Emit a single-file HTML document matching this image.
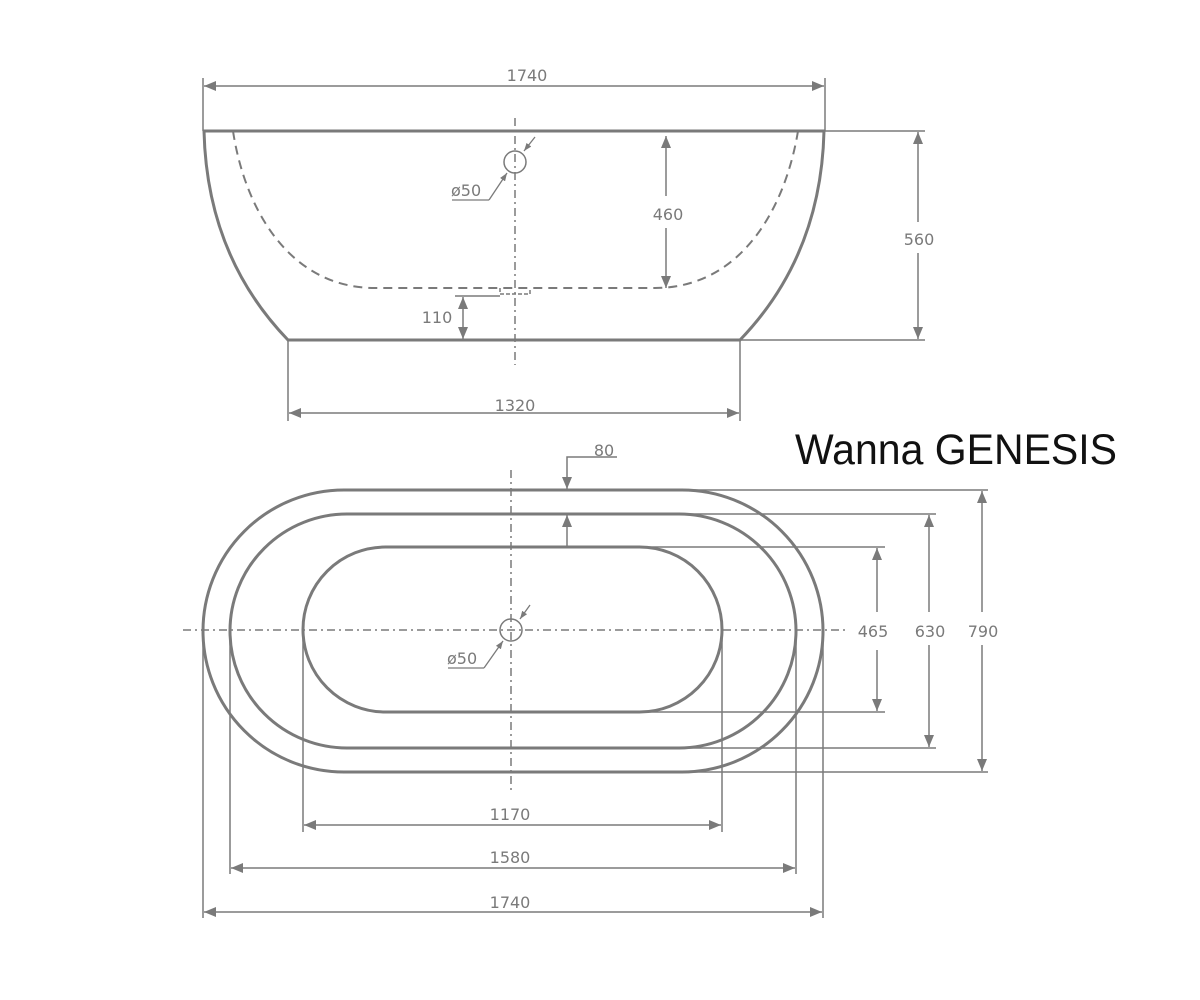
<!DOCTYPE html>
<html><head><meta charset="utf-8"><style>
html,body{margin:0;padding:0;background:#fff;width:1200px;height:1000px;overflow:hidden}
svg{display:block}
text{font-family:"DejaVu Sans","Liberation Sans",sans-serif;fill:#7a7a7a;font-size:16px}
</style></head><body>
<svg width="1200" height="1000" viewBox="0 0 1200 1000" xmlns="http://www.w3.org/2000/svg">
<defs>
<marker id="a" viewBox="0 0 12 10" refX="12" refY="5" markerWidth="12" markerHeight="10" markerUnits="userSpaceOnUse" orient="auto-start-reverse"><path d="M0,0 L12,5 L0,10 Z" fill="#7a7a7a"/></marker>
<marker id="s" viewBox="0 0 8 6" refX="8" refY="3" markerWidth="8" markerHeight="6" markerUnits="userSpaceOnUse" orient="auto-start-reverse"><path d="M0,0 L8,3 L0,6 Z" fill="#7a7a7a"/></marker>
</defs>
<g stroke="#7a7a7a" fill="none">
<g stroke-width="3">
<line x1="203" y1="131" x2="825" y2="131"/>
<path d="M204,131 C206,215 235,285 288,340 L740,340 C793,285 822,215 824,131"/>
</g>
<path d="M233,131 C245,210 290,288 375,288 L655,288 C740,288 785,210 798,131" stroke-width="2" stroke-dasharray="9,6"/>
<path d="M500,288 L500,294 L530,294 L530,288" stroke-width="1.5" stroke-dasharray="4,2"/>
<line x1="515" y1="118" x2="515" y2="365" stroke-width="1.5" stroke-dasharray="8,4,2,4"/>
<circle cx="515" cy="162" r="11" stroke-width="1.5"/>
<line x1="535" y1="137" x2="524" y2="151" stroke-width="1.3" marker-end="url(#s)"/>
<polyline points="489,200 507,173" stroke-width="1.3" marker-end="url(#s)"/>
<line x1="452" y1="200" x2="489" y2="200" stroke-width="1.3"/>
<g stroke-width="1.5">
<line x1="203" y1="78" x2="203" y2="131"/><line x1="825" y1="78" x2="825" y2="131"/>
<line x1="204" y1="86" x2="824" y2="86" marker-start="url(#a)" marker-end="url(#a)"/>
<line x1="666" y1="136" x2="666" y2="196" marker-start="url(#a)"/>
<line x1="666" y1="228" x2="666" y2="288" marker-end="url(#a)"/>
<line x1="825" y1="131" x2="925" y2="131"/><line x1="740" y1="340" x2="925" y2="340"/>
<line x1="918" y1="132" x2="918" y2="222" marker-start="url(#a)"/>
<line x1="918" y1="253" x2="918" y2="339" marker-end="url(#a)"/>
<line x1="455" y1="296" x2="500" y2="296"/>
<line x1="463" y1="297" x2="463" y2="339" marker-start="url(#a)" marker-end="url(#a)"/>
<line x1="288" y1="340" x2="288" y2="421"/><line x1="740" y1="340" x2="740" y2="421"/>
<line x1="289" y1="413" x2="739" y2="413" marker-start="url(#a)" marker-end="url(#a)"/>
</g>
<g stroke-width="3">
<rect x="203" y="490" width="620" height="282" rx="141" ry="141"/>
<rect x="230" y="514" width="566" height="234" rx="117" ry="117"/>
<rect x="303" y="547" width="419" height="165" rx="82.5" ry="82.5"/>
</g>
<line x1="183" y1="630" x2="848" y2="630" stroke-width="1.5" stroke-dasharray="8,4,2,4"/>
<line x1="511" y1="470" x2="511" y2="792" stroke-width="1.5" stroke-dasharray="8,4,2,4"/>
<circle cx="511" cy="630" r="11" stroke-width="1.5"/>
<line x1="530" y1="605" x2="520" y2="619" stroke-width="1.3" marker-end="url(#s)"/>
<polyline points="484,668 503,641" stroke-width="1.3" marker-end="url(#s)"/>
<line x1="448" y1="668" x2="484" y2="668" stroke-width="1.3"/>
<g stroke-width="1.5">
<polyline points="617,457 567,457 567,489" marker-end="url(#a)"/>
<line x1="567" y1="547" x2="567" y2="515" marker-end="url(#a)"/>
<line x1="682" y1="490" x2="988" y2="490"/><line x1="682" y1="772" x2="988" y2="772"/>
<line x1="679" y1="514" x2="936" y2="514"/><line x1="679" y1="748" x2="936" y2="748"/>
<line x1="640" y1="547" x2="885" y2="547"/><line x1="640" y1="712" x2="885" y2="712"/>
<line x1="877" y1="548" x2="877" y2="612" marker-start="url(#a)"/>
<line x1="877" y1="650" x2="877" y2="711" marker-end="url(#a)"/>
<line x1="929" y1="515" x2="929" y2="612" marker-start="url(#a)"/>
<line x1="929" y1="645" x2="929" y2="747" marker-end="url(#a)"/>
<line x1="982" y1="491" x2="982" y2="612" marker-start="url(#a)"/>
<line x1="982" y1="645" x2="982" y2="771" marker-end="url(#a)"/>
<line x1="303" y1="630" x2="303" y2="832"/><line x1="722" y1="630" x2="722" y2="832"/>
<line x1="230" y1="630" x2="230" y2="874"/><line x1="796" y1="630" x2="796" y2="874"/>
<line x1="203" y1="630" x2="203" y2="918"/><line x1="823" y1="630" x2="823" y2="918"/>
<line x1="304" y1="825" x2="721" y2="825" marker-start="url(#a)" marker-end="url(#a)"/>
<line x1="231" y1="868" x2="795" y2="868" marker-start="url(#a)" marker-end="url(#a)"/>
<line x1="204" y1="912" x2="822" y2="912" marker-start="url(#a)" marker-end="url(#a)"/>
</g>
</g>
<text x="527" y="81" text-anchor="middle">1740</text>
<text x="668" y="220" text-anchor="middle">460</text>
<text x="919" y="245" text-anchor="middle">560</text>
<text x="437" y="323" text-anchor="middle">110</text>
<text x="515" y="411" text-anchor="middle">1320</text>
<text x="451" y="196">ø50</text>
<text x="604" y="456" text-anchor="middle">80</text>
<text x="447" y="664">ø50</text>
<text x="873" y="637" text-anchor="middle">465</text>
<text x="930" y="637" text-anchor="middle">630</text>
<text x="983" y="637" text-anchor="middle">790</text>
<text x="510" y="820" text-anchor="middle">1170</text>
<text x="510" y="863" text-anchor="middle">1580</text>
<text x="510" y="908" text-anchor="middle">1740</text>
<text x="795" y="464" textLength="322" lengthAdjust="spacingAndGlyphs" style="font-family:'Liberation Sans',sans-serif;font-size:43px;fill:#111">Wanna GENESIS</text>
</svg>
</body></html>
